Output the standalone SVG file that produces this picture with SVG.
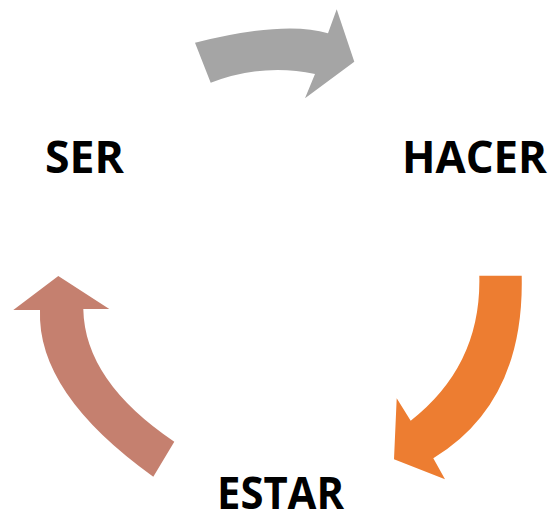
<svg xmlns="http://www.w3.org/2000/svg" width="550" height="513" viewBox="0 0 550 513">
<style>
.lbl{font-family:"Open Sans","Noto Sans",sans-serif;font-weight:700;font-size:45px;fill:#000}
</style>
<rect width="550" height="513" fill="#fff"/>
<g id="connectors">
<path id="arrow-ser-hacer" fill="#A5A5A5" d="M195,42.7 Q285,20 328,33.3 L336.7,9.3 L354.3,61.7 L305,98.3 L315,74 Q263.2,62.7 210.7,82.7 Z"/>
<path id="arrow-hacer-estar" fill="#ED7D31" d="M479.3,275.7 L521.7,275.7 Q524.5,403 433.3,458.3 L445,479.3 L394,459.3 L396.7,398.3 L410.7,420.7 Q481.6,365.2 479.3,275.7 Z"/>
<path id="arrow-estar-ser" fill="#C5806F" d="M58.3,276 L109.3,309 L83.3,309 Q84.6,381.3 174.3,441.7 L153.3,476.7 Q36.75,393.25 40,310 L13.3,310 Z"/>
</g>
<g id="node-ser"><text class="lbl" x="45" y="173" textLength="79" lengthAdjust="spacingAndGlyphs">SER</text></g>
<g id="node-hacer"><text class="lbl" x="402" y="173" textLength="145" lengthAdjust="spacingAndGlyphs">HACER</text></g>
<g id="node-estar"><text class="lbl" x="217" y="509" textLength="127" lengthAdjust="spacingAndGlyphs">ESTAR</text></g>
</svg>
